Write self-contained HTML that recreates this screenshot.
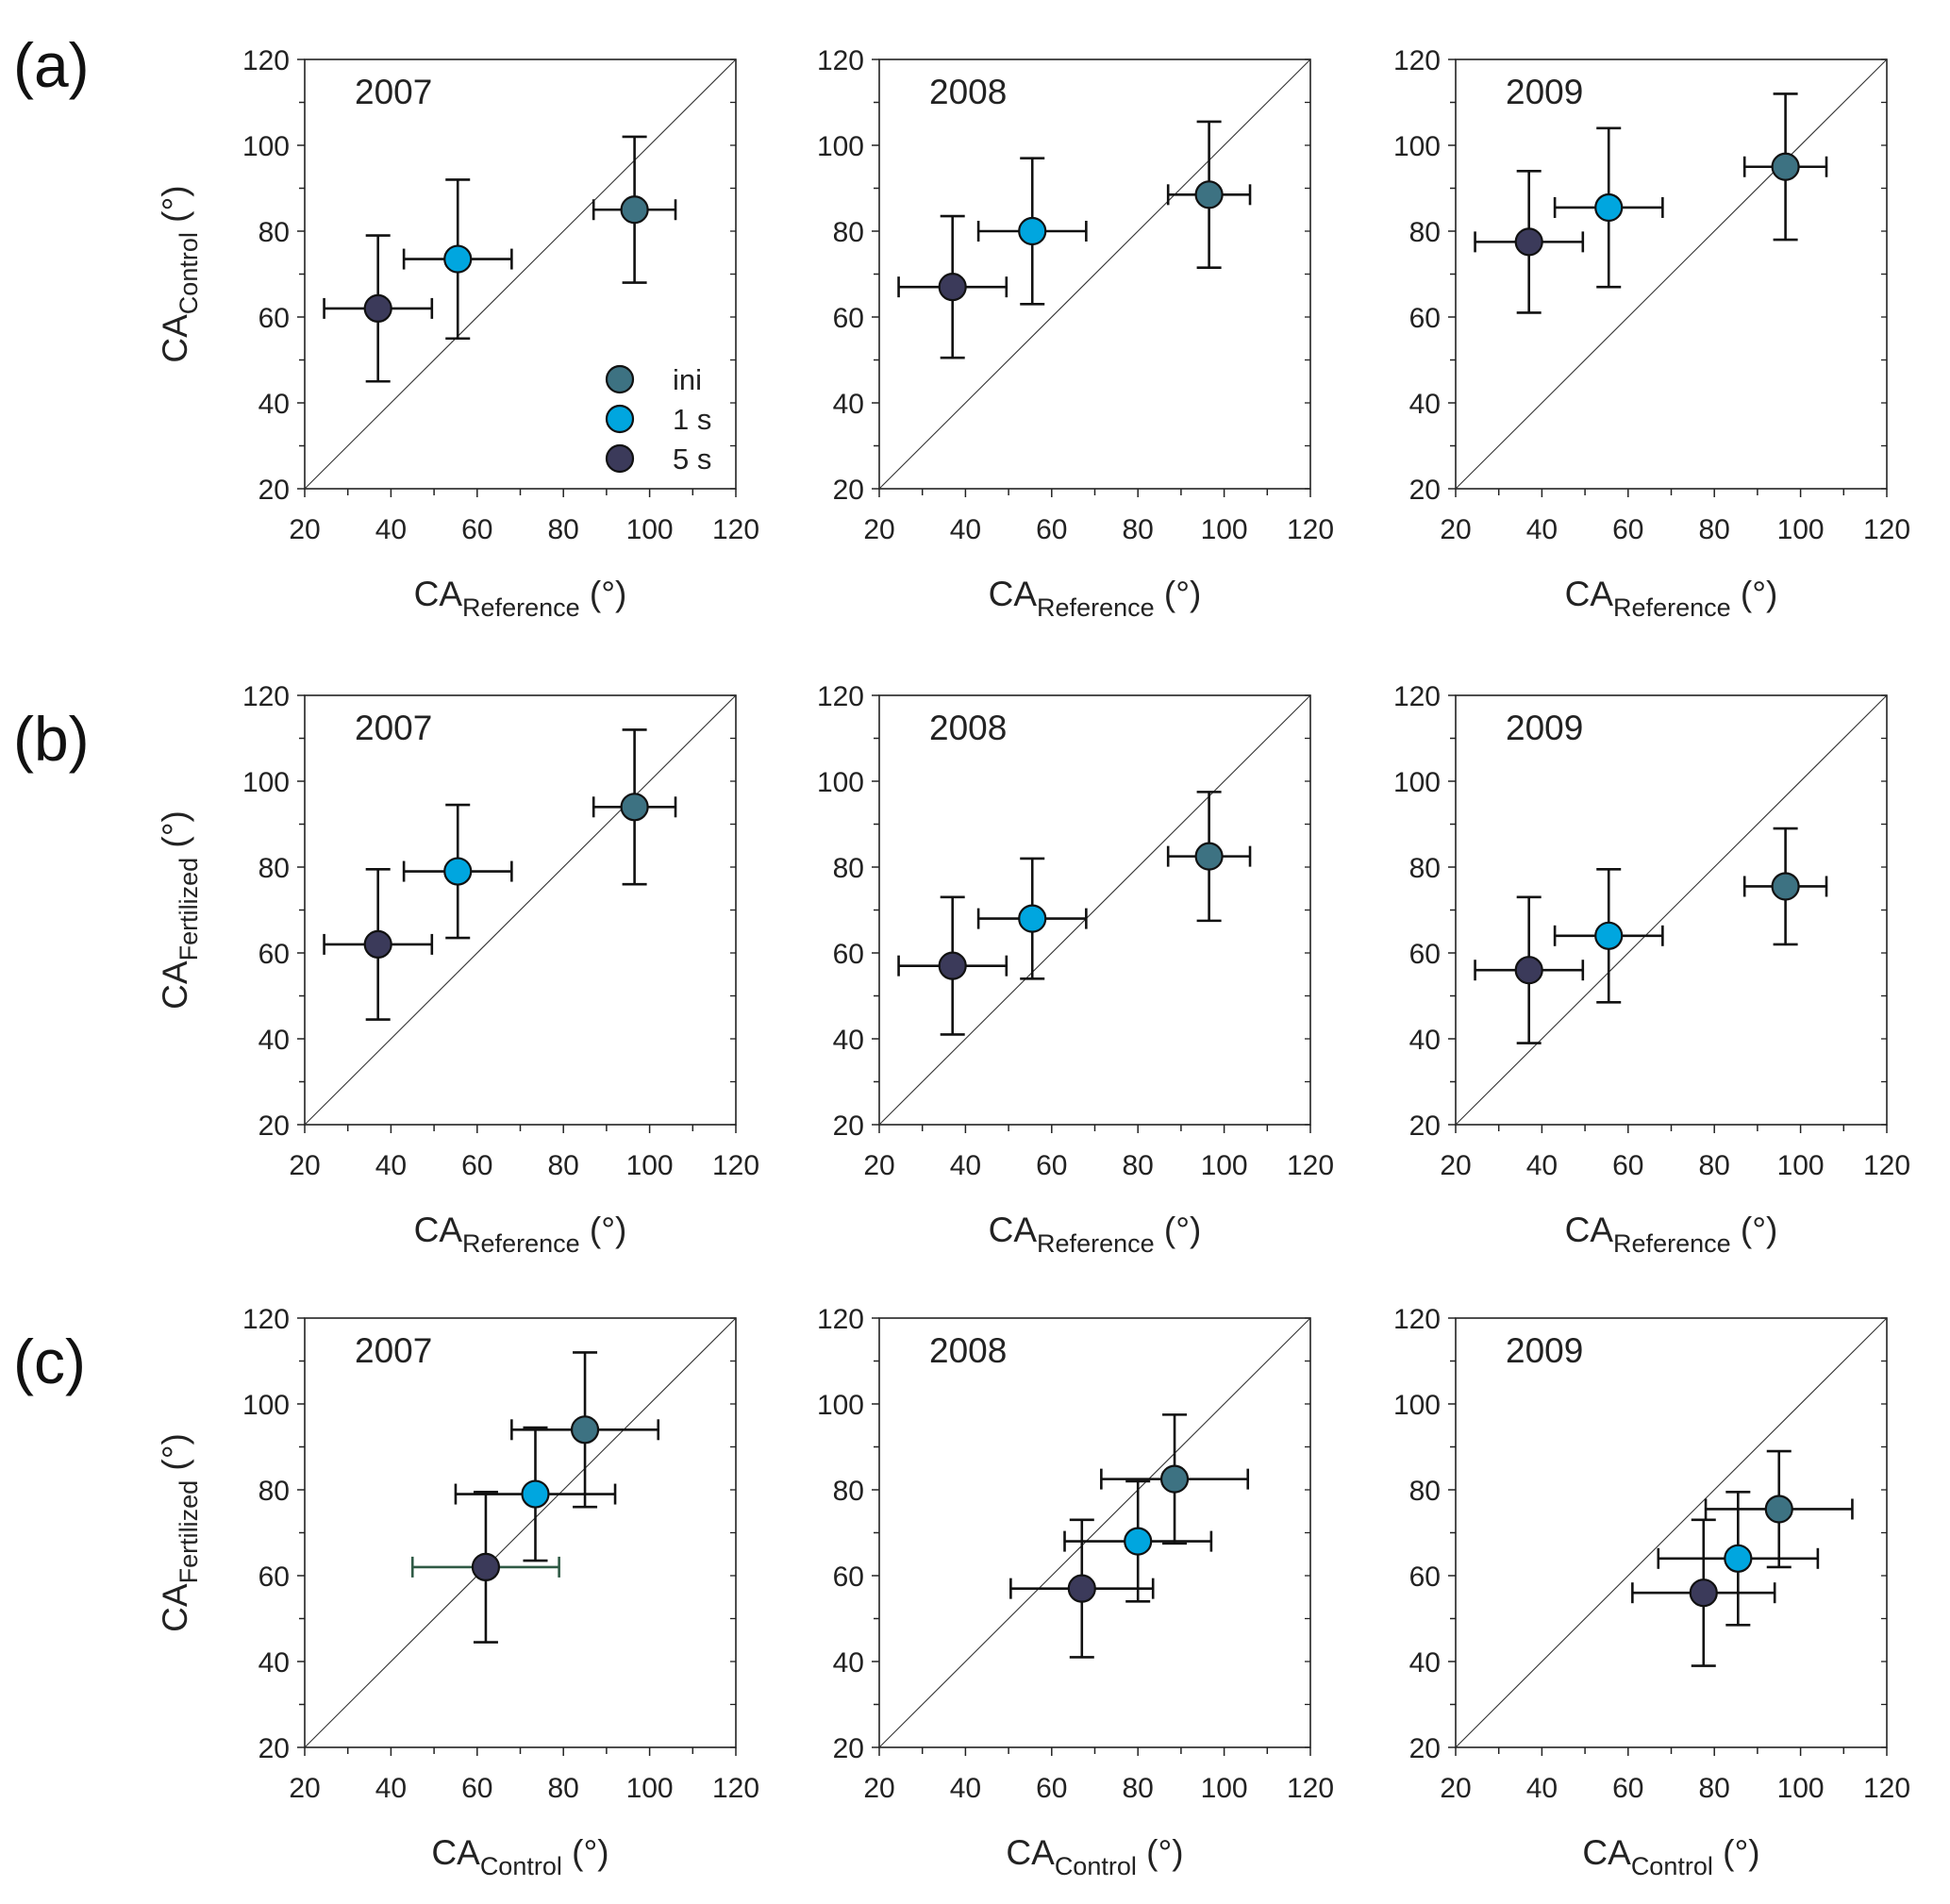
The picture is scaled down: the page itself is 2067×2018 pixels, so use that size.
<!DOCTYPE html>
<html><head><meta charset="utf-8"><style>
html,body{margin:0;padding:0;background:#fff}
svg{display:block;font-family:"Liberation Sans",sans-serif}
</style></head><body>
<svg id="fig" width="2067" height="2018" viewBox="0 0 2067 2018" xmlns="http://www.w3.org/2000/svg">
<text x="14" y="92" font-size="66" fill="#111">(a)</text>
<text x="14" y="806" font-size="66" fill="#111">(b)</text>
<text x="14" y="1466" font-size="66" fill="#111">(c)</text>
</svg>
<script>
const ticks = [20,40,60,80,100,120];
const years = ["2007","2008","2009"];
const seriesNames = ["ini","1 s","5 s"];
const colors = ["#3d7282","#00a6df","#3b3a5a"];
// Row a/b x values (CA Reference) with errors: order ini, 1 s, 5 s
const refX = [96.5, 55.5, 37];
const refXErr = [9.5, 12.5, 12.5];
// Row a: CA Control per year
const ctrlY = [[85,73.5,62],[88.5,80,67],[95,85.5,77.5]];
const ctrlYErr = [[17,18.5,17],[17,17,16.5],[17,18.5,16.5]];
// Row b: CA Fertilized per year
const fertY = [[94,79,62],[82.5,68,57],[75.5,64,56]];
const fertYErr = [[18,15.5,17.5],[15,14,16],[13.5,15.5,17]];

const svg = document.getElementById('fig');
const NS = "http://www.w3.org/2000/svg";
function mk(tag, attrs, parent){
  const e = document.createElementNS(NS, tag);
  for (const k in attrs) e.setAttribute(k, attrs[k]);
  (parent||svg).appendChild(e); return e;
}
const colX = [323, 932, 1543], W = 457;
const rowY = [63, 737, 1397], H = 455;

function panel(ci, ri, xs, xe, ys, ye, xsub, ysub){
  const L = colX[ci], T = rowY[ri], R = L + W, B = T + H;
  const sx = v => L + (v-20)/100*W;
  const sy = v => B - (v-20)/100*H;
  const g = mk('g', {});
  
  
  const frame = mk('rect', {x:L, y:T, width:W, height:H, fill:'none', stroke:'#222', 'stroke-width':1.6}, g);
   
  const diag = mk('line', {x1:sx(20), y1:sy(20), x2:sx(120), y2:sy(120), stroke:'#333', 'stroke-width':1.1}, g);
   
  for (let v=20; v<=120; v+=10){
    const major = v%20===0;
    mk('line',{x1:sx(v),y1:B,x2:sx(v),y2:B+(major?9:7),stroke:'#222','stroke-width':1.5},g);
    mk('line',{x1:L,y1:sy(v),x2:L-(major?8:6),y2:sy(v),stroke:'#222','stroke-width':1.5},g);
    mk('line',{x1:R,y1:sy(v),x2:R-6,y2:sy(v),stroke:'#222','stroke-width':1.3},g);
  }
  ticks.forEach(v=>{
    const tx = mk('text',{x:sx(v), y:B+53, 'font-size':30, 'text-anchor':'middle', fill:'#222'}, g);
    tx.textContent = v;
     
    const ty = mk('text',{x:L-16, y:sy(v)+11, 'font-size':30, 'text-anchor':'end', fill:'#222'}, g);
    ty.textContent = v;
     
  });
  const yr = mk('text',{x:L+53, y:T+47, 'font-size':37, fill:'#222'}, g);
  yr.textContent = years[ci];
   
  const xt = mk('text',{x:(L+R)/2, y:B+124, 'font-size':37, 'text-anchor':'middle', fill:'#222'}, g);
  xt.innerHTML = 'CA<tspan font-size="27" dy="11">'+xsub+'</tspan><tspan dy="-11"> (°)</tspan>';
   
  if (ci===0){
    const cx = L-125, cy=(T+B)/2;
    const yt = mk('text',{x:cx, y:cy, 'font-size':37, 'text-anchor':'middle', fill:'#222', transform:'rotate(-90 '+cx+' '+cy+')'}, g);
    yt.innerHTML = 'CA<tspan font-size="27" dy="11">'+ysub+'</tspan><tspan dy="-11"> (°)</tspan>';
     
  }
  for (let i=2;i>=0;i--){
    const pg = mk('g',{},g);
    
    
    const px = sx(xs[i]), py = sy(ys[i]);
    const x1 = sx(xs[i]-xe[i]), x2 = sx(xs[i]+xe[i]);
    const y1 = sy(ys[i]-ye[i]), y2 = sy(ys[i]+ye[i]);
    const ec = (ri===2 && ci===0 && i===2) ? '#2f5a45' : '#111';
    const a = {stroke:ec,'stroke-width':2.6};
    mk('line',Object.assign({x1:x1,y1:py,x2:x2,y2:py},a),pg);
    mk('line',Object.assign({x1:x1,y1:py-11,x2:x1,y2:py+11},a),pg);
    mk('line',Object.assign({x1:x2,y1:py-11,x2:x2,y2:py+11},a),pg);
    const a2 = {stroke:'#111','stroke-width':2.6};
    mk('line',Object.assign({x1:px,y1:y1,x2:px,y2:y2},a2),pg);
    mk('line',Object.assign({x1:px-13,y1:y1,x2:px+13,y2:y1},a2),pg);
    mk('line',Object.assign({x1:px-13,y1:y2,x2:px+13,y2:y2},a2),pg);
    mk('circle',{cx:px,cy:py,r:14,fill:colors[i],stroke:'#111','stroke-width':2.2},pg);
  }
  if (ri===0 && ci===0){
    const lg = mk('g',{},g);
     
    seriesNames.forEach((n,i)=>{
      const eg = mk('g',{},lg);
      
      
      const y = 402 + i*42;
      mk('circle',{cx:657,cy:y,r:14,fill:colors[i],stroke:'#111','stroke-width':2.2},eg);
      const t = mk('text',{x:713,y:y+11,'font-size':31,fill:'#222'},eg);
      t.textContent = n;
    });
  }
}
for (let c=0;c<3;c++){
  panel(c,0,refX,refXErr,ctrlY[c],ctrlYErr[c],'Reference','Control');
  panel(c,1,refX,refXErr,fertY[c],fertYErr[c],'Reference','Fertilized');
  panel(c,2,ctrlY[c],ctrlYErr[c],fertY[c],fertYErr[c],'Control','Fertilized');
}
</script>
</body></html>
